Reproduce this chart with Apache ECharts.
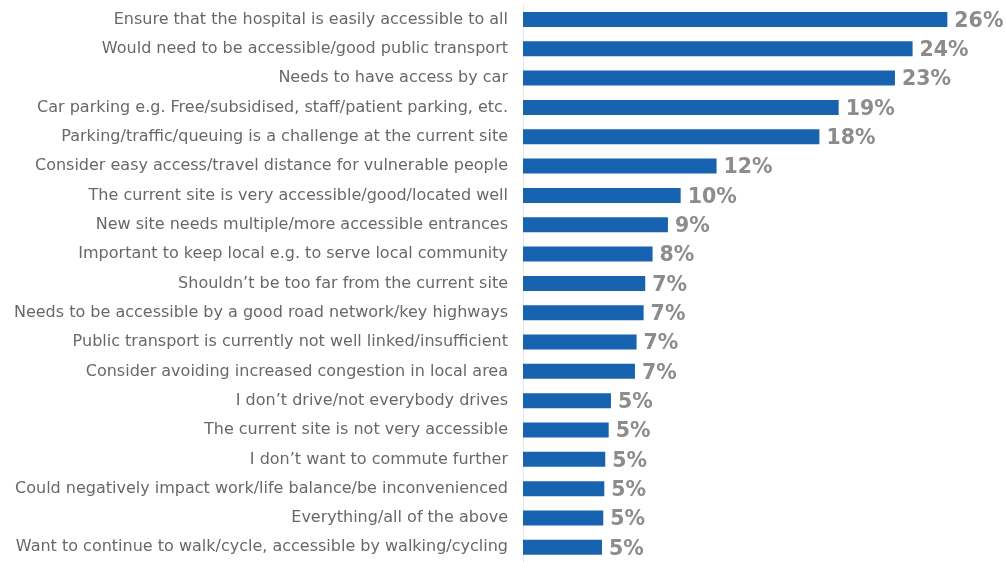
<!DOCTYPE html>
<html>
<head>
<meta charset="utf-8">
<script src="https://cdn.jsdelivr.net/npm/echarts@6/dist/echarts.min.js"></script>
<style>
html,body{margin:0;padding:0;background:#fff;}
#chart{width:1006px;height:562px;}
</style>
</head>
<body>
<div id="chart"></div>
<script>
const categories = [
  "Ensure that the hospital is easily accessible to all",
  "Would need to be accessible/good public transport",
  "Needs to have access by car",
  "Car parking e.g. Free/subsidised, staff/patient parking, etc.",
  "Parking/traffic/queuing is a challenge at the current site",
  "Consider easy access/travel distance for vulnerable people",
  "The current site is very accessible/good/located well",
  "New site needs multiple/more accessible entrances",
  "Important to keep local e.g. to serve local community",
  "Shouldn\u2019t be too far from the current site",
  "Needs to be accessible by a good road network/key highways",
  "Public transport is currently not well linked/insufficient",
  "Consider avoiding increased congestion in local area",
  "I don\u2019t drive/not everybody drives",
  "The current site is not very accessible",
  "I don\u2019t want to commute further",
  "Could negatively impact work/life balance/be inconvenienced",
  "Everything/all of the above",
  "Want to continue to walk/cycle, accessible by walking/cycling"
];
const values = [26.0, 23.87, 22.79, 19.34, 18.16, 11.86, 9.66, 8.88, 7.94, 7.49, 7.39, 6.96, 6.86, 5.39, 5.25, 5.04, 4.98, 4.92, 4.84];
const valueLabels = ["26%","24%","23%","19%","18%","12%","10%","9%","8%","7%","7%","7%","7%","5%","5%","5%","5%","5%","5%"];

const chart = echarts.init(document.getElementById('chart'));
chart.setOption({
  animation: false,
  grid: { left: 523, top: 4.75, width: 457, height: 560.5, containLabel: false },
  xAxis: {
    type: 'value', min: 0, max: 28, show: false
  },
  yAxis: {
    type: 'category',
    inverse: true,
    data: categories,
    axisTick: { show: false },
    axisLine: { show: true, lineStyle: { color: '#e8e8e8', width: 1 } },
    axisLabel: {
      margin: 15,
      color: '#686868',
      fontFamily: 'DejaVu Sans',
      fontSize: 16
    }
  },
  series: [{
    type: 'bar',
    data: values,
    barWidth: 15,
    itemStyle: { color: '#1763b0' },
    label: {
      show: true,
      position: 'right',
      distance: 7,
      offset: [0, 2],
      formatter: p => valueLabels[p.dataIndex],
      color: '#8c8c8c',
      fontFamily: 'DejaVu Sans',
      fontWeight: 'bold',
      fontSize: 20.5
    }
  }]
});
</script>
</body>
</html>
